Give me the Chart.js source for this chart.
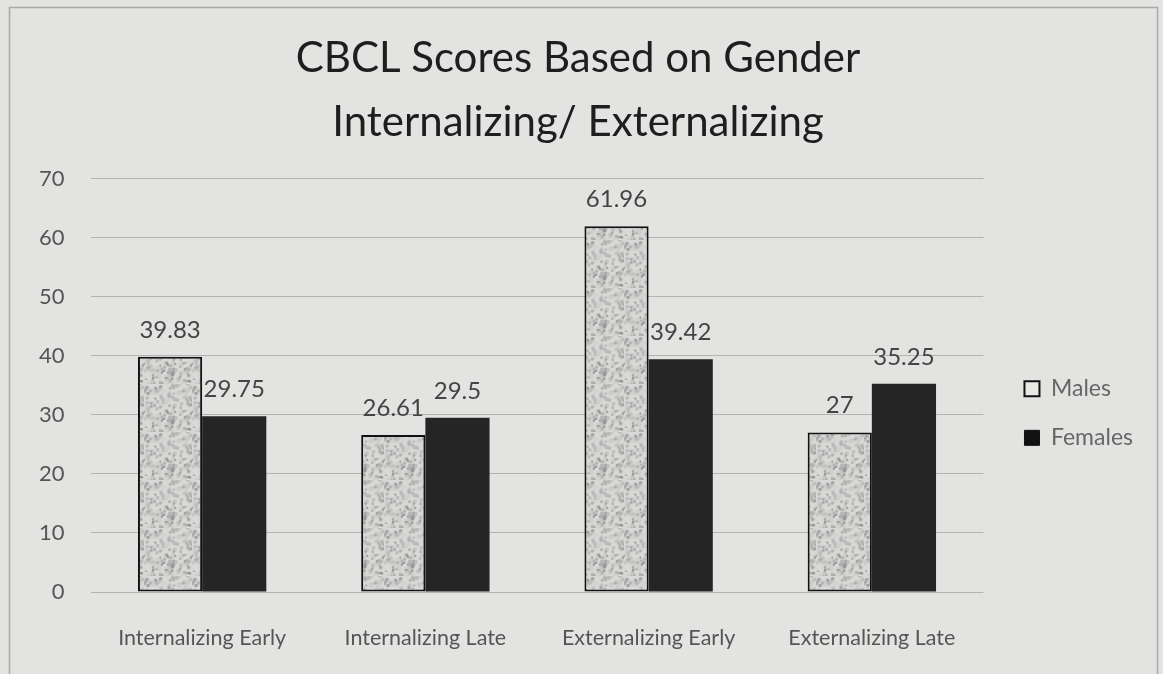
<!DOCTYPE html>
<html>
<head>
<meta charset="utf-8">
<script src="https://cdn.jsdelivr.net/npm/chart.js@4.4.1/dist/chart.umd.min.js"></script>
<style>
  html, body { margin: 0; padding: 0; background: #e3e3e1; }
  #wrap { width: 1163px; height: 674px; }
</style>
</head>
<body>
<div id="wrap"><canvas id="myChart" width="1163" height="674"></canvas></div>
<script>
let categories = ['Internalizing Early', 'Internalizing Late', 'Externalizing Early', 'Externalizing Late'];
let males = [39.83, 26.61, 61.96, 27];
let females = [29.75, 29.5, 39.42, 35.25];
let seriesNames = ['Males', 'Females'];
let titleLines = ['CBCL Scores Based on Gender', 'Internalizing/ Externalizing'];

// speckled fill for the male bars (fixed hash, no randomness)
function speckle() {
  let c = document.createElement('canvas');
  c.width = 48; c.height = 48;
  let g = c.getContext('2d');
  g.fillStyle = '#d8d8d6';
  g.fillRect(0, 0, 48, 48);
  for (let i = 0; i < 170; i++) {
    let h = Math.sin(i * 12.9898 + 78.233) * 43758.5453;
    let fx = h - Math.floor(h);
    let h2 = Math.sin(i * 39.346 + 11.135) * 24634.6345;
    let fy = h2 - Math.floor(h2);
    let h3 = Math.sin(i * 7.13 + 3.7) * 9631.77;
    let fs = h3 - Math.floor(h3);
    let shade = Math.round(100 + fs * 110);
    g.fillStyle = 'rgba(' + shade + ',' + shade + ',' + shade + ',0.45)';
    g.beginPath();
    g.arc(fx * 48, fy * 48, 1 + fs * 1.8, 0, Math.PI * 2);
    g.fill();
  }
  return g.createPattern(c, 'repeat');
}

let frame = {
  id: 'frame',
  beforeDraw(chart) {
    let ctx = chart.ctx;
    ctx.save();
    ctx.fillStyle = '#e3e3e1';
    ctx.fillRect(0, 0, chart.width, chart.height);
    ctx.strokeStyle = '#a9a9a7';
    ctx.lineWidth = 1.5;
    ctx.strokeRect(9.5, 7.5, 1148, 700);
    ctx.restore();
  }
};

let valueLabels = {
  id: 'valueLabels',
  afterDatasetsDraw(chart) {
    let ctx = chart.ctx;
    ctx.save();
    ctx.font = '24px Lato';
    ctx.fillStyle = '#444';
    ctx.textAlign = 'center';
    ctx.textBaseline = 'middle';
    chart.data.datasets.forEach((ds, di) => {
      chart.getDatasetMeta(di).data.forEach((bar, i) => {
        ctx.fillText(String(ds.data[i]), bar.x, bar.y - 27);
      });
    });
    ctx.restore();
  }
};

let chart = document.getElementById('myChart');
let barConfig = {
  type: 'bar',
  data: {
    labels: categories,
    datasets: [{
      label: seriesNames[0],
      data: males,
      backgroundColor: speckle(),
      borderColor: '#111',
      borderWidth: 2,
      borderSkipped: false
    }, {
      label: seriesNames[1],
      data: females,
      backgroundColor: '#252525',
      borderColor: '#252525',
      borderWidth: 0
    }]
  },
  options: {
    responsive: false,
    animation: false,
    layout: { padding: { left: 13, right: 20, top: 0, bottom: 0 } },
    datasets: { bar: { categoryPercentage: 0.575, barPercentage: 1 } },
    plugins: {
      title: {
        display: true,
        text: titleLines,
        color: '#1e1e1e',
        font: { family: 'Lato', size: 42, weight: 'normal', lineHeight: 1.52 },
        padding: { top: 27, bottom: 24 }
      },
      legend: {
        position: 'right',
        fullSize: false,
        title: { display: true, text: ' ', font: { size: 10, lineHeight: 1 }, padding: { top: 46, bottom: 0 } },
        labels: {
          font: { family: 'Lato', size: 23 },
          color: '#555',
          boxWidth: 15,
          boxHeight: 15,
          padding: 26,
          generateLabels() {
            return [
              { text: seriesNames[0], fillStyle: '#e8e8e6', strokeStyle: '#111', lineWidth: 2, datasetIndex: 0 },
              { text: seriesNames[1], fillStyle: '#111', strokeStyle: '#111', lineWidth: 1, datasetIndex: 1 }
            ];
          }
        }
      },
      tooltip: { enabled: false }
    },
    scales: {
      x: {
        grid: { display: false, drawTicks: false },
        border: { display: false },
        ticks: { color: '#555', font: { family: 'Lato', size: 21.5 }, padding: 33, maxRotation: 0, minRotation: 0 },
        afterFit(scale) { scale.height = 82; }
      },
      y: {
        min: 0,
        max: 70,
        grid: { color: '#b3b3b1', drawTicks: false },
        border: { display: false },
        ticks: {
          stepSize: 10,
          color: '#555',
          font: { family: 'Lato', size: 22 },
          padding: 26
        }
      },
      gap: {
        type: 'linear',
        position: 'right',
        display: true,
        grid: { display: false, drawTicks: false },
        border: { display: false },
        ticks: { display: false },
        afterFit(scale) { scale.width = 15; }
      }
    }
  },
  plugins: [frame, valueLabels]
};
let barChart = new Chart(chart, barConfig);
</script>
</body>
</html>
